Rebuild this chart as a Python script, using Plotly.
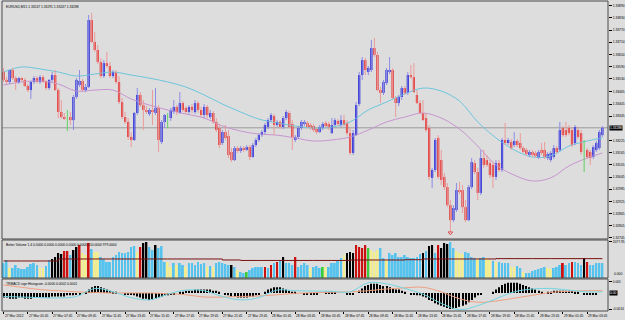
import numpy as np
import plotly.graph_objects as go

# ---------------- DATA ----------------
# EURUSD M15 prices in points (1 point = 0.00001)
open_pts = [133563,133524,133514,133573,133533,133514,133533,133524,133494,133474,
133514,133533,133514,133538,133514,133484,133524,133548,133474,133366,
133341,133341,133341,133326,133440,133499,133519,133474,133489,133819,
133711,133672,133612,133543,133607,133593,133543,133563,133514,133415,
133341,133317,133243,133228,133361,133450,133400,133376,133356,133376,
133361,133386,133218,133317,133336,133336,133366,133391,133361,133410,
133386,133366,133391,133366,133410,133376,133351,133391,133341,133361,
133317,133287,133213,133267,133248,133169,133129,133188,133174,133188,
133179,133193,133144,133203,133228,133252,133267,133292,133326,133346,
133302,133317,133292,133336,133361,133307,133228,133243,133287,133307,
133312,133302,133297,133282,133267,133287,133312,133307,133262,133302,
133322,133302,133326,133312,133262,133164,133252,133405,133548,133622,
133563,133573,133681,133647,133474,133460,133509,133563,133573,133435,
133410,133440,133484,133460,133548,133538,133450,133410,133361,133336,
133287,133041,133080,133238,133129,133046,132996,132907,132833,132883,
132981,132981,132897,132833,132996,133114,133070,132967,133139,133129,
133114,133105,133046,133114,133080,133228,133213,133218,133203,133223,
133213,133188,133179,133154,133169,133164,133144,133179,133179,133139,
133129,133144,133188,133179,133287,133277,133287,133277,133213,133277,
133262,133179,133179,133169,133144,133179,133188,133252]
high_pts = [133583,133538,133573,133583,133543,133538,133538,133533,133504,133519,
133543,133543,133548,133548,133524,133529,133563,133573,133484,133425,
133361,133376,133366,133450,133533,133573,133529,133504,133844,133854,
133760,133696,133632,133622,133662,133612,133573,133573,133543,133435,
133366,133336,133267,133366,133484,133464,133425,133395,133386,133474,
133484,133400,133326,133356,133361,133386,133425,133400,133464,133420,
133395,133400,133405,133425,133420,133391,133405,133400,133376,133371,
133336,133302,133277,133302,133277,133188,133198,133198,133198,133198,
133203,133203,133213,133238,133262,133277,133312,133336,133361,133356,
133326,133326,133346,133376,133371,133326,133252,133297,133326,133326,
133322,133312,133307,133292,133302,133317,133322,133317,133336,133336,
133331,133351,133351,133326,133287,133277,133415,133563,133637,133632,
133593,133721,133731,133662,133489,133524,133583,133637,133583,133445,
133450,133494,133494,133563,133598,133607,133474,133425,133425,133361,
133302,133090,133238,133252,133179,133065,133016,132932,132907,133016,
133021,133006,132932,133006,133139,133129,133090,133179,133179,133154,
133129,133119,133129,133129,133238,133312,133238,133233,133267,133233,
133262,133198,133188,133179,133179,133174,133179,133213,133218,133169,
133174,133203,133198,133317,133297,133317,133302,133292,133302,133292,
133277,133228,133188,133179,133203,133223,133277,133297]
low_pts = [133514,133504,133504,133524,133474,133504,133514,133489,133464,133430,
133504,133509,133504,133509,133474,133474,133514,133469,133336,133331,
133326,133272,133302,133277,133430,133489,133469,133464,133484,133706,
133662,133603,133533,133533,133583,133533,133533,133504,133405,133331,
133307,133228,133193,133223,133351,133391,133277,133356,133346,133302,
133351,133169,133208,133287,133287,133322,133356,133351,133356,133366,
133356,133356,133361,133356,133361,133341,133336,133336,133331,133307,
133267,133188,133203,133228,133139,133119,133124,133164,133164,133169,
133174,133129,133139,133193,133218,133243,133257,133282,133317,133252,
133292,133282,133282,133326,133287,133179,133218,133233,133277,133297,
133287,133277,133267,133257,133262,133277,133287,133277,133257,133297,
133297,133292,133292,133252,133154,133154,133248,133395,133524,133548,
133548,133563,133637,133469,133410,133450,133499,133553,133430,133341,
133395,133425,133450,133450,133529,133460,133405,133356,133322,133267,
133031,132991,133070,133036,133006,132981,132897,132774,132823,132873,
132962,132868,132823,132828,132986,133060,132932,132957,133090,133095,
133041,132991,133031,133070,133070,133203,133203,133179,133193,133193,
133179,133164,133149,133144,133144,133139,133134,133154,133134,133129,
133119,133134,133159,133169,133243,133243,133252,133193,133203,133233,
133154,133070,133134,133105,133134,133169,133179,133243]
close_pts = [133524,133514,133573,133533,133514,133533,133524,133494,133474,133514,
133533,133514,133538,133514,133484,133524,133548,133474,133366,133341,
133336,133341,133326,133440,133524,133519,133474,133489,133819,133711,
133672,133612,133543,133607,133593,133543,133563,133514,133415,133341,
133317,133243,133228,133361,133450,133400,133376,133366,133376,133366,
133386,133228,133317,133351,133336,133376,133391,133366,133410,133376,
133366,133391,133376,133410,133376,133351,133391,133351,133361,133317,
133277,133203,133267,133238,133154,133129,133188,133174,133188,133179,
133193,133144,133203,133228,133252,133267,133302,133326,133351,133302,
133317,133292,133336,133366,133292,133243,133243,133287,133317,133317,
133292,133287,133277,133267,133292,133307,133297,133287,133302,133326,
133307,133326,133302,133262,133164,133262,133400,133548,133622,133573,
133583,133681,133647,133474,133460,133514,133573,133573,133435,133410,
133440,133484,133460,133548,133538,133464,133410,133361,133326,133277,
133046,133080,133228,133046,133031,132996,132907,132833,132893,132981,
132972,132897,132833,132996,133119,133070,132967,133139,133105,133105,
133055,133046,133114,133080,133228,133213,133228,133188,133223,133203,
133188,133169,133159,133169,133154,133149,133169,133164,133144,133159,
133164,133188,133169,133277,133252,133252,133262,133203,133292,133243,
133169,133179,133144,133139,133193,133213,133267,133288]

# moving averages sampled every 6 bars (plus last bar), in points
ma_bars = list(range(0, 193, 6)) + [197]
ma_fast_pts = [133563,133588,133578,133563,133543,133553,133563,133548,133533,133514,
133489,133450,133405,133366,133331,133312,133297,133287,133292,133317,
133376,133415,133455,133484,133469,133420,133317,133238,133179,133144,
133149,133198,133223,133238]
ma_slow_pts = [133499,133514,133519,133504,133469,133474,133474,133430,133400,133376,
133356,133336,133297,133272,133257,133252,133238,133223,133228,133243,
133277,133317,133341,133361,133336,133282,133198,133105,133055,133026,
133041,133100,133139,133164]

# Better Volume 1.4
volume = [821,985,547,547,711,547,492,492,602,766,
821,711,547,547,656,985,1039,1149,1368,1313,
1477,1477,1258,1532,1696,1805,1368,1258,1915,1586,
1422,1422,1149,1039,875,875,1149,1258,1422,1368,
1368,1422,1696,1750,1422,1696,1915,1969,1696,1532,
1805,1641,1750,875,875,602,821,711,821,711,
602,821,821,711,875,766,821,602,656,602,
821,875,821,766,711,711,602,438,328,274,
328,438,547,602,602,602,602,547,711,821,
875,985,1149,821,821,711,1149,602,711,821,
711,547,602,656,547,602,602,602,821,821,
930,1094,1258,1368,1422,1368,1805,1696,1641,1805,
1641,1532,1422,1532,1641,1094,985,1368,1258,1368,
1149,1149,1258,1149,1094,1094,1149,1313,1368,1477,
1750,1805,1368,1805,1641,1915,1860,1969,1641,1477,
1368,1313,1422,1368,1149,1094,1039,1094,1149,1094,
985,930,875,875,821,821,821,602,602,656,
547,328,274,274,383,438,492,547,602,547,
492,547,602,711,821,711,821,875,875,821,
711,1094,875,711,711,821,821,821]
# b = normal, y = low volume, r = climax up, k = climax down, g = churn
vol_class = list("bbybbbbbbb" "bbyybbkkkk" "rrbkkryyrb" "yybbbbbbbb" "bbbbyrkkbb"
                 "kbbbyybybb" "ybbbbbbyby" "bbbbbkbybb" "gbbbbbrbrb" "rbkbbbrbbb"
                 "bybbbgybbb" "bbykkkrrrr" "gyyybbybbb" "bbbbbbbbkb" "kkbrkkkbby"
                 "yybbbbybby" "ybybbbbyyb" "bybbbbbbby" "ybbbrbbrbb" "bkrbbbbb")
vol_avg = [930,930,930,1040,1040,1040,1040,1040,1040,1040,1040,1040,985,960,960,960,
           960,960,960,985,985,985,1000,1040,1040,1040,1040,1060,1060,1060,1060,1060,1060,1060]

# TRMACD (units of 0.0001)
macd_hist_e4 = [-4,-4,-5,-5,-5,-4,-4,-5,-5,-5,-4,-4,-4,-4,-4,-4,-3,-3,-3,-3,-3,-2,-2,
  -2,-1,-1,0,1,
  3,5,6,6,5,4,3,2,
  1,1,0,0,-1,-1,-1,
  -2,-3,-4,-5,-5,-6,-6,-5,-4,-3,
  -2,-2,-1,-1,0,
  1,1,2,2,2,3,3,3,3,3,3,2,2,
  1,0,-1,-2,-3,-3,-4,-4,-4,-4,-3,-3,-2,-1,
  0,1,3,4,5,5,5,4,3,2,1,
  1,0,0,-1,-1,-1,-1,-1,0,0,1,1,1,1,0,0,0,
  -1,-1,-1,
  0,2,4,6,7,8,8,8,7,6,6,5,4,3,3,2,1,
  0,-1,-1,-2,-2,
  -3,-4,-6,-7,-9,-10,-11,-12,-13,-14,-14,-13,-12,-11,-10,-8,-6,-4,-2,
  -1,0,0,0,
  1,3,5,7,8,9,9,9,9,8,7,6,5,4,3,2,1,0,
  1,1,2,2,2,2,2,2,2,1,1,
  0,-1,-1,-1,-1,-1,0,0]
macd_signal_e4 = [7,5,3,2,1,0.5,0,0,0,-0.5,-1.5,-3.5,-3.5,-3,-2.6,-1.5,-0.3,0.3,0.6,1,
                  2,3.5,4.5,5,1,-5,-8,-7,-4.5,-2,0.5,1.5,2,2]
macd_main_e4 = [-3,-3.5,-4,-4.3,-3,4,1,-4,-6,-1,2.5,2,-3,-6,-4,2.6,2,1.7,1.5,1,
                9,8,4,-1,-9,-14.5,-11,-5,1,3.5,4,2.5,1,1]

time_labels = ["27 Mar 2012", "27 Mar 05:45", "27 Mar 07:45", "27 Mar 09:45", "27 Mar 11:45",
               "27 Mar 13:45", "27 Mar 15:45", "27 Mar 17:45", "27 Mar 19:45", "27 Mar 21:45",
               "27 Mar 23:45", "28 Mar 01:45", "28 Mar 03:45", "28 Mar 05:45", "28 Mar 07:45",
               "28 Mar 09:45", "28 Mar 11:45", "28 Mar 13:45", "28 Mar 15:45", "28 Mar 17:45",
               "28 Mar 19:45", "28 Mar 21:45", "28 Mar 23:45", "29 Mar 01:45", "29 Mar 03:45"]
price_tick_labels = ["1.33890", "1.33830", "1.33770", "1.33710", "1.33650", "1.33590", "1.33530",
                     "1.33465", "1.33405", "1.33345", "1.33225", "1.33165", "1.33105", "1.33045",
                     "1.32985", "1.32925", "1.32865", "1.32805", "1.32745"]
title_text = "EURUSD,M15 1.33247 1.33291 1.33247 1.33288"
vol_title = "Better Volume 1.4 0.0000 0.0000 0.0000 0.0000 0.0000 510.0000 979.0000"
macd_title = "TRMACD sign Histogram -0.0000 0.0002 0.0001"

# ---------------- FIGURE ----------------
BG = "#dddddd"
FONT = "Liberation Sans, Arial, sans-serif"
FS = 3.3

o = np.array(open_pts) / 1e5
h = np.array(high_pts) / 1e5
l = np.array(low_pts) / 1e5
c = np.array(close_pts) / 1e5
N = len(c)
idx = np.arange(N)
up = c > o
dn = c < o
dj = c == o

def wick_xy(mask):
    xs, ys = [], []
    for i in idx[mask]:
        xs += [int(i), int(i), None]
        ys += [l[i], h[i], None]
    return xs, ys

fig = go.Figure()

# moving averages (behind candles)
fig.add_trace(go.Scatter(x=ma_bars, y=np.array(ma_fast_pts) / 1e5, mode="lines",
                         line=dict(color="#6cc6dc", width=1, shape="spline"), xaxis="x", yaxis="y"))
fig.add_trace(go.Scatter(x=ma_bars, y=np.array(ma_slow_pts) / 1e5, mode="lines",
                         line=dict(color="#c794d0", width=1, shape="spline"), xaxis="x", yaxis="y"))

for mask, col in [(up, "#8c8ce6"), (dn, "#eb9a9a"), (dj, "#5fd35f")]:
    xs, ys = wick_xy(mask)
    fig.add_trace(go.Scatter(x=xs, y=ys, mode="lines", line=dict(color=col, width=1),
                             connectgaps=False, xaxis="x", yaxis="y"))

fig.add_trace(go.Bar(x=idx[up], y=(c - o)[up], base=o[up], width=0.72,
                     marker=dict(color="#1414d2", line_width=0), xaxis="x", yaxis="y"))
fig.add_trace(go.Bar(x=idx[dn], y=(o - c)[dn], base=c[dn], width=0.72,
                     marker=dict(color="#e01c1c", line_width=0), xaxis="x", yaxis="y"))

# arrow under the lowest low
imin = int(np.argmin(l))
fig.add_trace(go.Scatter(x=[imin], y=[l[imin] - 0.00004], mode="markers",
                         marker=dict(symbol="triangle-down-open", size=4, color="#e05050",
                                     line=dict(width=1, color="#e05050")), xaxis="x", yaxis="y"))

# volume
vol_colors = {"b": "#55c3ee", "y": "#f2ee8e", "r": "#cc1111", "k": "#000000", "g": "#3ccc3c"}
fig.add_trace(go.Bar(x=idx, y=volume, width=0.62,
                     marker=dict(color=[vol_colors[k] for k in vol_class], line_width=0),
                     xaxis="x", yaxis="y2"))
fig.add_trace(go.Scatter(x=ma_bars, y=vol_avg, mode="lines",
                         line=dict(color="#7a1010", width=1, shape="hv"), xaxis="x", yaxis="y2"))

# MACD
fig.add_trace(go.Bar(x=idx, y=np.array(macd_hist_e4) * 1e-4, width=0.34,
                     marker=dict(color="#000000", line_width=0), xaxis="x", yaxis="y3"))
fig.add_trace(go.Scatter(x=ma_bars, y=np.array(macd_signal_e4) * 1e-4, mode="lines",
                         line=dict(color="#f0a080", width=1, shape="spline"), xaxis="x", yaxis="y3"))
fig.add_trace(go.Scatter(x=ma_bars, y=np.array(macd_main_e4) * 1e-4, mode="lines",
                         line=dict(color="#74d6e2", width=1, shape="spline"), xaxis="x", yaxis="y3"))

label_bars = list(range(0, N, 8))[:len(time_labels)]
tick_font = dict(family=FONT, size=FS, color="#000000")

main_dom = [0.23226, 1.0]
vol_dom = [0.10645, 0.22903]
macd_dom = [0.0, 0.10323]

fig.update_layout(
    width=625, height=320, margin=dict(l=2, r=17, t=1, b=9),
    paper_bgcolor=BG, plot_bgcolor=BG, showlegend=False, barmode="overlay",
    xaxis=dict(range=[-0.5, 198.85], anchor="y3", showgrid=False, zeroline=False,
               showticklabels=False, ticks="outside", ticklen=2, tickwidth=1, tickcolor="#000000",
               tickvals=label_bars, showline=False),
    yaxis=dict(domain=main_dom, range=[1.32740, 1.33913], side="right", anchor="x",
               showgrid=False, zeroline=False, ticks="outside", ticklen=3, tickcolor="#000000",
               tickvals=[float(t) for t in price_tick_labels], ticktext=price_tick_labels,
               tickfont=tick_font),
    yaxis2=dict(domain=vol_dom, range=[0, 2077.95], side="right", anchor="x",
                showgrid=False, zeroline=False, ticks="outside", ticklen=3, tickcolor="#000000",
                tickvals=[2000], ticktext=["2077.95"], tickfont=tick_font),
    yaxis3=dict(domain=macd_dom, range=[-0.001565, 0.00122], side="right", anchor="x",
                showgrid=False, zeroline=False, ticks="outside", ticklen=3, tickcolor="#000000",
                tickvals=[0.001, -0.0014], ticktext=["0.001", "-0.0014"], tickfont=tick_font),
)

shapes = []
for dom in (main_dom, vol_dom, macd_dom):
    shapes.append(dict(type="rect", xref="paper", yref="paper", x0=0, x1=1, y0=dom[0], y1=dom[1],
                       line=dict(color="#4a4a4a", width=1), fillcolor="rgba(0,0,0,0)", layer="above"))
shapes.append(dict(type="line", xref="paper", yref="y", x0=0, x1=1, y0=c[-1], y1=c[-1],
                   line=dict(color="#9a9a9a", width=1), layer="below"))
fig.update_layout(shapes=shapes)

ann = []
ann.append(dict(text=title_text, xref="paper", yref="paper", x=0, y=1, xanchor="left", yanchor="top",
                xshift=2, yshift=-2, showarrow=False, font=tick_font))
ann.append(dict(text=vol_title, xref="paper", yref="paper", x=0, y=vol_dom[1], xanchor="left",
                yanchor="top", xshift=2, yshift=-1, showarrow=False, font=tick_font))
ann.append(dict(text=macd_title, xref="paper", yref="paper", x=0, y=macd_dom[1], xanchor="left",
                yanchor="top", xshift=2, yshift=-1, showarrow=False, font=tick_font))
for b, t in zip(label_bars, time_labels):
    ann.append(dict(text=t, xref="x", yref="paper", x=b, y=0, xanchor="left", yanchor="top",
                    xshift=-1, yshift=-1, showarrow=False, font=tick_font))
white_font = dict(family=FONT, size=FS, color="#ffffff")
ann.append(dict(text="%.5f" % c[-1], xref="paper", yref="y", x=1, y=c[-1], xanchor="left",
                yanchor="middle", xshift=1, showarrow=False, font=white_font, bgcolor="#000000",
                borderpad=0))
ann.append(dict(text="0.00", xref="paper", yref="y3", x=1, y=0, xanchor="left",
                yanchor="middle", xshift=1, showarrow=False, font=white_font, bgcolor="#000000",
                borderpad=0))
ann.append(dict(text="0.000", xref="paper", yref="y2", x=1, y=0, xanchor="left",
                yanchor="bottom", xshift=4, showarrow=False, font=tick_font))
fig.update_layout(annotations=ann)

fig.write_html("out.html")
